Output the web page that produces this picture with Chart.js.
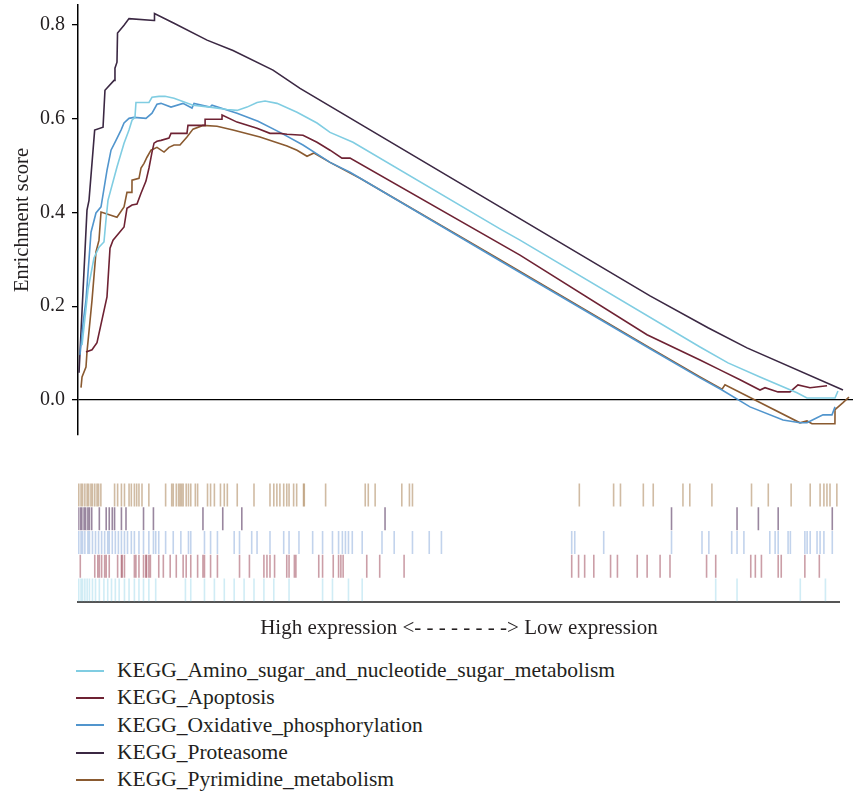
<!DOCTYPE html>
<html lang="en">
<head>
  <meta charset="UTF-8" />
  <title>GSEA enrichment plot</title>
  <script src="https://cdn.jsdelivr.net/npm/chart.js"></script>
  <style>
    body {
      margin: 0;
      background-color: #fff;
      font-family: "Liberation Serif", "DejaVu Serif", serif;
      color: #231f20;
    }
    #wrap { position: relative; width: 853px; height: 795px; }
    #curves { position: absolute; left: 0; top: 0; }
    #barcode { position: absolute; left: 0; top: 470px; }
    #legend { position: absolute; left: 76px; top: 657px; font-size: 21.5px; }
    .item { height: 27.3px; display: flex; align-items: center; }
    .swatch { width: 28px; height: 2px; margin-right: 13px; }
  </style>
</head>
<body>
  <div id="wrap">
    <canvas id="curves" width="853" height="440"></canvas>
    <canvas id="barcode" width="853" height="175"></canvas>
    <div id="legend"></div>
  </div>
  <script>
    // x = position in the ranked gene list (% of list), y = running enrichment score
    const seriesNames = [
      'KEGG_Amino_sugar_and_nucleotide_sugar_metabolism',
      'KEGG_Apoptosis',
      'KEGG_Oxidative_phosphorylation',
      'KEGG_Proteasome',
      'KEGG_Pyrimidine_metabolism'
    ];
    const seriesColors = ['#80cde2', '#6e2233', '#5195cd', '#3b2843', '#8a5a30'];
    const barcodeColors = [
      'rgba(120,200,225,0.35)',
      'rgba(140,40,60,0.45)',
      'rgba(80,130,200,0.35)',
      'rgba(70,35,80,0.55)',
      'rgba(150,105,50,0.45)'
    ];
    const yTicks = [0.0, 0.2, 0.4, 0.6, 0.8];

    const aminoX = [0.52, 1.29, 2.06, 2.71, 3.35, 3.61, 3.87, 5.03, 5.94, 6.58, 6.97, 7.35, 7.48, 9.16, 9.55, 10.45, 11.23, 12.39, 14.84, 17.03, 19.23, 20.52, 21.81, 23.1, 24.13, 25.68, 28.26, 30.84, 32.52, 35.48, 54.45, 57.03, 80.26, 83.87, 88.0, 92.77, 94.06, 97.68, 98.06];
    const aminoY = [0.117, 0.235, 0.303, 0.326, 0.337, 0.384, 0.426, 0.497, 0.548, 0.576, 0.597, 0.603, 0.635, 0.635, 0.646, 0.648, 0.648, 0.644, 0.629, 0.625, 0.62, 0.618, 0.625, 0.635, 0.638, 0.633, 0.614, 0.591, 0.571, 0.55, 0.365, 0.341, 0.113, 0.079, 0.049, 0.015, 0.004, 0.004, 0.019];

    const apoptosisX = [1.03, 1.81, 2.45, 3.74, 4.13, 4.52, 5.94, 6.32, 6.97, 7.61, 8.13, 8.77, 9.16, 9.55, 9.81, 10.19, 10.71, 11.74, 12.0, 14.06, 14.19, 16.39, 16.4, 18.58, 18.59, 20.52, 23.1, 24.77, 26.06, 26.97, 29.03, 30.84, 32.52, 34.06, 35.1, 57.03, 73.42, 80.26, 82.84, 85.42, 88.0, 88.65, 90.32, 91.87, 92.9, 94.45, 96.65];
    const apoptosisY = [0.102, 0.107, 0.122, 0.22, 0.324, 0.341, 0.369, 0.409, 0.416, 0.418, 0.441, 0.467, 0.495, 0.529, 0.548, 0.552, 0.554, 0.559, 0.569, 0.569, 0.586, 0.586, 0.599, 0.599, 0.608, 0.593, 0.58, 0.569, 0.569, 0.567, 0.565, 0.55, 0.533, 0.516, 0.516, 0.309, 0.139, 0.085, 0.064, 0.043, 0.021, 0.026, 0.017, 0.017, 0.032, 0.026, 0.03];

    const oxphosX = [0.26, 0.65, 1.03, 1.68, 2.32, 2.97, 3.74, 4.26, 4.9, 5.55, 5.94, 6.58, 7.23, 8.77, 9.55, 10.19, 10.71, 12.0, 13.55, 14.71, 14.97, 17.03, 17.29, 20.52, 23.23, 26.06, 29.03, 32.52, 35.1, 54.45, 73.81, 80.26, 83.1, 86.71, 90.97, 93.16, 94.06, 95.35, 96.13, 97.29, 97.68];
    const oxphosY = [0.096, 0.164, 0.213, 0.358, 0.399, 0.412, 0.49, 0.533, 0.554, 0.576, 0.591, 0.601, 0.603, 0.601, 0.612, 0.631, 0.633, 0.625, 0.633, 0.623, 0.633, 0.625, 0.629, 0.612, 0.595, 0.571, 0.544, 0.507, 0.486, 0.297, 0.109, 0.047, 0.021, -0.015, -0.043, -0.049, -0.049, -0.038, -0.032, -0.032, -0.015];

    const proteasomeX = [0.13, 1.16, 1.42, 2.15, 3.23, 3.48, 4.65, 4.77, 5.03, 5.1, 5.94, 6.58, 9.81, 9.87, 12.39, 16.65, 20.0, 25.16, 28.65, 54.45, 73.81, 81.29, 86.32, 98.71];
    const proteasomeY = [0.058, 0.405, 0.426, 0.576, 0.582, 0.661, 0.682, 0.708, 0.721, 0.783, 0.8, 0.814, 0.81, 0.825, 0.804, 0.768, 0.746, 0.704, 0.665, 0.412, 0.222, 0.154, 0.111, 0.021];

    const pyrimidineX = [0.39, 0.52, 1.03, 1.16, 1.81, 2.32, 2.71, 2.97, 5.03, 5.94, 6.32, 6.96, 6.97, 7.87, 8.13, 8.52, 8.9, 9.42, 10.19, 11.1, 11.74, 12.39, 13.16, 14.06, 14.84, 16.13, 17.94, 20.0, 23.48, 26.97, 28.26, 29.55, 30.45, 32.52, 36.39, 54.45, 73.81, 80.26, 83.1, 83.48, 93.16, 94.06, 94.71, 97.67, 97.68, 98.71, 99.48];
    const pyrimidineY = [0.026, 0.049, 0.07, 0.102, 0.213, 0.316, 0.341, 0.401, 0.39, 0.412, 0.443, 0.443, 0.469, 0.473, 0.495, 0.505, 0.518, 0.533, 0.539, 0.529, 0.539, 0.544, 0.544, 0.561, 0.578, 0.586, 0.584, 0.576, 0.561, 0.542, 0.533, 0.52, 0.527, 0.507, 0.473, 0.299, 0.111, 0.049, 0.023, 0.032, -0.049, -0.045, -0.051, -0.051, -0.021, -0.006, 0.006];

    // gene set members along the ranked list (barcode rows)
    const aminoHits = [0.1, 0.4, 0.6, 0.9, 1.2, 1.5, 1.9, 2.3, 2.8, 3.4, 3.9, 4.4, 4.9, 5.4, 6.1, 6.7, 7.4, 8.0, 8.6, 9.3, 10.2, 14.1, 14.8, 16.6, 17.9, 19.2, 20.5, 21.8, 23.1, 24.4, 25.7, 27.7, 32.1, 33.4, 35.5, 37.3, 83.7, 86.5, 94.8, 98.1];
    const apoptosisHits = [0.3, 2.2, 2.6, 2.8, 3.1, 3.5, 3.7, 4.1, 5.2, 5.7, 5.8, 6.1, 7.4, 7.6, 8.0, 8.6, 8.9, 9.0, 9.3, 9.5, 10.6, 11.2, 12.1, 12.9, 13.8, 14.2, 14.8, 15.7, 16.4, 16.6, 17.4, 18.3, 21.2, 22.5, 24.4, 24.8, 25.2, 25.8, 27.4, 27.7, 28.4, 28.6, 31.6, 32.1, 33.5, 34.2, 34.5, 34.8, 37.9, 39.6, 42.8, 64.8, 65.7, 66.5, 67.7, 69.9, 70.8, 73.4, 74.7, 76.4, 77.7, 82.5, 83.7, 88.3, 88.9, 89.7, 91.9, 92.3, 95.4, 97.3];
    const oxphosHits = [0.1, 0.4, 0.6, 0.9, 1.3, 1.5, 1.9, 2.3, 2.7, 3.1, 3.5, 3.9, 4.1, 4.5, 4.9, 5.3, 5.7, 6.1, 6.5, 7.0, 7.4, 8.0, 8.6, 9.3, 9.9, 10.2, 10.6, 11.5, 12.5, 13.5, 14.5, 14.8, 16.6, 17.4, 18.3, 20.5, 21.2, 22.8, 23.5, 25.2, 27.0, 27.7, 29.0, 30.8, 32.1, 33.4, 34.2, 34.7, 35.1, 35.5, 36.0, 37.3, 39.9, 41.5, 43.9, 46.1, 47.7, 64.8, 65.2, 69.0, 77.9, 81.9, 82.8, 85.8, 86.5, 87.4, 90.8, 91.5, 91.9, 93.2, 93.5, 95.4, 95.7, 96.1, 97.0, 97.4, 97.9, 99.0];
    const proteasomeHits = [0.0, 0.3, 0.5, 0.8, 1.0, 1.3, 1.5, 1.8, 2.8, 3.7, 4.1, 4.5, 4.8, 5.7, 6.3, 8.6, 9.9, 16.4, 19.0, 21.5, 40.3, 77.9, 86.5, 89.3, 91.9, 99.0];
    const pyrimidineHits = [0.1, 0.4, 0.6, 0.9, 1.2, 1.4, 1.7, 1.9, 2.2, 2.5, 2.7, 3.0, 4.8, 5.2, 5.7, 6.1, 6.7, 7.0, 7.4, 7.7, 8.0, 8.4, 9.3, 11.5, 12.3, 12.5, 12.9, 13.2, 13.4, 13.6, 13.8, 14.2, 14.5, 14.8, 15.4, 15.7, 17.0, 17.4, 17.9, 18.7, 19.2, 19.6, 20.9, 23.1, 25.2, 25.7, 26.1, 26.5, 27.0, 27.4, 27.7, 28.3, 28.7, 29.6, 29.7, 32.5, 37.7, 38.1, 39.0, 42.5, 43.5, 43.9, 65.8, 70.3, 71.2, 74.2, 75.5, 79.4, 80.3, 83.2, 88.4, 90.6, 93.6, 96.1, 97.4, 97.9, 98.3, 98.7, 99.6];

    const curveX = [aminoX, apoptosisX, oxphosX, proteasomeX, pyrimidineX];
    const curveY = [aminoY, apoptosisY, oxphosY, proteasomeY, pyrimidineY];
    const hits = [aminoHits, apoptosisHits, oxphosHits, proteasomeHits, pyrimidineHits];
    // barcode rows from top to bottom
    const rowOrder = [4, 3, 2, 1, 0];

    const serif = '"Liberation Serif", "DejaVu Serif", serif';

    new Chart(document.getElementById('curves'), {
      type: 'line',
      data: {
        datasets: seriesNames.map((name, i) => ({
          label: name,
          data: curveX[i].map((x, j) => ({ x, y: curveY[i][j] })),
          borderColor: seriesColors[i],
          borderWidth: 1.6,
          pointRadius: 0,
          tension: 0,
          fill: false
        }))
      },
      options: {
        responsive: false,
        animation: false,
        layout: { padding: { top: 5, bottom: 5, left: 0, right: 0 } },
        plugins: { legend: { display: false }, tooltip: { enabled: false } },
        scales: {
          x: { type: 'linear', min: 0, max: 100, display: false },
          y: {
            min: -0.075,
            max: 0.843,
            afterBuildTicks: s => { s.ticks = yTicks.map(v => ({ value: v })); },
            afterFit: s => {
              s.width = 78;
              s.paddingTop = 0;
              s.paddingBottom = 0;
            },
            border: { color: '#000', width: 1.5 },
            grid: {
              color: c => (c.tick && c.tick.value === 0 ? '#000' : 'transparent'),
              lineWidth: 1.3,
              tickColor: '#000',
              tickLength: 6
            },
            ticks: {
              callback: v => v.toFixed(1),
              font: { family: serif, size: 20 },
              color: '#231f20',
              padding: 7
            },
            title: {
              display: true,
              text: 'Enrichment score',
              font: { family: serif, size: 20.5 },
              color: '#231f20',
              padding: { top: 10, bottom: 0 }
            }
          }
        }
      }
    });

    new Chart(document.getElementById('barcode'), {
      type: 'scatter',
      data: {
        datasets: rowOrder.map((s, row) => ({
          label: seriesNames[s],
          data: hits[s].map(x => ({ x, y: 4.5 - row })),
          pointStyle: 'line',
          pointRotation: 90,
          pointRadius: 11.5,
          borderColor: barcodeColors[s],
          borderWidth: 1.6
        }))
      },
      options: {
        responsive: false,
        animation: false,
        layout: { padding: { top: 12, bottom: 4, left: 78, right: 0 } },
        plugins: { legend: { display: false }, tooltip: { enabled: false } },
        scales: {
          x: {
            type: 'linear', min: 0, max: 100,
            border: { color: '#555', width: 2 },
            grid: { display: false, drawTicks: false },
            ticks: { display: false },
            title: {
              display: true,
              text: 'High expression <- - - - - - - -> Low expression',
              font: { family: serif, size: 21 },
              color: '#231f20',
              padding: { top: 14, bottom: 0 }
            }
          },
          y: { min: 0, max: 5, display: false }
        }
      }
    });

    const legend = document.getElementById('legend');
    seriesNames.forEach((name, i) => {
      const item = document.createElement('div');
      item.className = 'item';
      item.innerHTML = `<span class="swatch" style="background:${seriesColors[i]}"></span><span>${name}</span>`;
      legend.appendChild(item);
    });
  </script>
</body>
</html>
